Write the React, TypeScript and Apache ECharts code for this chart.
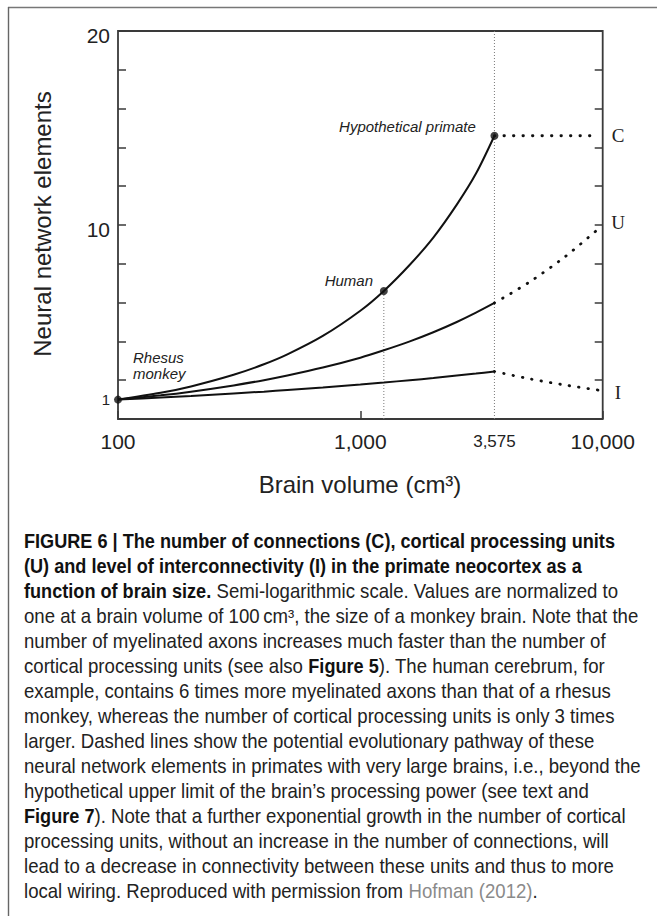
import React, { useEffect, useRef } from 'react';
import * as echarts from 'echarts';

// Brain volume (cm3) sampled along the solid curves
const volumeSolid = [100, 150, 200, 300, 400, 500, 700, 1000, 1250, 1600, 2000, 2500, 3000, 3575];
// Connections (C)
const connectionsC = [1, 1.35, 1.68, 2.28, 2.82, 3.33, 4.28, 5.58, 6.6, 7.95, 9.35, 11.05, 12.65, 14.6];
// Cortical processing units (U)
const unitsU = [1, 1.22, 1.41, 1.73, 2.0, 2.24, 2.65, 3.16, 3.54, 4.0, 4.47, 5.0, 5.48, 5.98];
// Interconnectivity (I)
const interI = [1, 1.11, 1.19, 1.32, 1.41, 1.5, 1.63, 1.78, 1.88, 2.0, 2.11, 2.24, 2.34, 2.45];

// Dashed (hypothetical) continuation
const volumeDashed = [3575, 5000, 7000, 9600];
const connectionsCDashed = [14.6, 14.6, 14.6, 14.6];
const unitsUDashed = [5.98, 7.07, 8.37, 9.8];
const interIDashed = [2.45, 2.07, 1.75, 1.49];

// Marked points: rhesus monkey, human, hypothetical primate
const pointVolumes = [100, 1250, 3575];
const pointValues = [1, 6.6, 14.6];

const yLabelValues = [1, 10, 20];

const captionLines = [
  '{b|FIGURE 6 | The number of connections (C), cortical processing units}',
  '{b|(U) and level of interconnectivity (I) in the primate neocortex as a}',
  '{b|function of brain size.}{r| Semi-logarithmic scale. Values are normalized to}',
  '{r|one at a brain volume of 100\u2009cm\u00b3, the size of a monkey brain. Note that the}',
  '{r|number of myelinated axons increases much faster than the number of}',
  '{r|cortical processing units (see also }{b|Figure 5}{r|). The human cerebrum, for}',
  '{r|example, contains 6 times more myelinated axons than that of a rhesus}',
  '{r|monkey, whereas the number of cortical processing units is only 3 times}',
  '{r|larger. Dashed lines show the potential evolutionary pathway of these}',
  '{r|neural network elements in primates with very large brains, i.e., beyond the}',
  '{r|hypothetical upper limit of the brain\u2019s processing power (see text and}',
  '{b|Figure 7}{r|). Note that a further exponential growth in the number of cortical}',
  '{r|processing units, without an increase in the number of connections, will}',
  '{r|lead to a decrease in connectivity between these units and thus to more}',
  '{r|local wiring. Reproduced with permission from }{g|Hofman (2012)}{r|.}',
];

const FONT = '"Liberation Sans", Arial, Helvetica, sans-serif';
const SERIF = '"Liberation Serif", "Times New Roman", serif';

export default function App() {
  const ref = useRef<HTMLDivElement>(null);

  useEffect(() => {
    document.body.style.margin = '0';
    const chart = echarts.init(ref.current!, null, { renderer: 'svg' });
    const pair = (xs: number[], ys: number[]) => xs.map((x, i) => [x, ys[i]]);
    const axisColor = '#3a3a3a';
    const solidStyle = { color: '#111', width: 2 };
    const dotStyle = { color: '#111', width: 2.8, type: [0.5, 9], cap: 'round' };
    const guideStyle = { color: '#7a7a7a', width: 1, type: [1, 2] };

    chart.setOption({
      animation: false,
      backgroundColor: '#fff',
      grid: {
        left: 118, top: 31, width: 484.7, height: 388,
        show: true, borderColor: axisColor, borderWidth: 1.8, backgroundColor: 'transparent',
      },
      xAxis: {
        type: 'log', logBase: 10, min: 100, max: 10000,
        axisLine: { show: false },
        axisTick: { show: true, inside: true, length: 8, lineStyle: { color: axisColor, width: 1.5 } },
        axisLabel: {
          margin: 12, fontSize: 21, fontFamily: FONT, color: '#222',
          formatter: (v: number) => Math.round(Number(v)).toLocaleString('en-US'),
        },
        splitLine: { show: false },
      },
      yAxis: [
        {
          type: 'value', min: 0, max: 20, interval: 2,
          axisLine: { show: false },
          axisTick: { show: true, inside: true, length: 8, lineStyle: { color: axisColor, width: 1.5 } },
          axisLabel: {
            customValues: yLabelValues, margin: 8, color: '#222',
            formatter: (v: number) => (v === 1 ? '{s|1}' : '{b|' + v + '}'),
            rich: {
              s: { fontSize: 15, fontFamily: FONT, color: '#222' },
              b: { fontSize: 21, fontFamily: FONT, color: '#222', padding: [8, 0, 0, 0] },
            },
          },
          splitLine: { show: false },
        },
        {
          type: 'value', min: 0, max: 20, interval: 2, position: 'right',
          axisLine: { show: false },
          axisTick: { show: true, inside: true, length: 8, lineStyle: { color: axisColor, width: 1.5 } },
          axisLabel: { show: false },
          splitLine: { show: false },
        },
      ],
      series: [
        { type: 'line', data: [[3575, 0], [3575, 20]], symbol: 'none', lineStyle: guideStyle, z: 1 },
        { type: 'line', data: [[pointVolumes[1], 0], [pointVolumes[1], pointValues[1]]], symbol: 'none', lineStyle: guideStyle, z: 1 },
        { type: 'line', name: 'C', data: pair(volumeSolid, connectionsC), smooth: 0.3, symbol: 'none', lineStyle: solidStyle, z: 3 },
        { type: 'line', name: 'U', data: pair(volumeSolid, unitsU), smooth: 0.3, symbol: 'none', lineStyle: solidStyle, z: 3 },
        { type: 'line', name: 'I', data: pair(volumeSolid, interI), smooth: 0.3, symbol: 'none', lineStyle: solidStyle, z: 3 },
        { type: 'line', data: pair(volumeDashed, connectionsCDashed), symbol: 'none', lineStyle: dotStyle, z: 3 },
        { type: 'line', data: pair(volumeDashed, unitsUDashed), smooth: 0.3, symbol: 'none', lineStyle: dotStyle, z: 3 },
        { type: 'line', data: pair(volumeDashed, interIDashed), smooth: 0.3, symbol: 'none', lineStyle: dotStyle, z: 3 },
        { type: 'scatter', data: pair(pointVolumes, pointValues), symbolSize: 8, itemStyle: { color: '#111' }, z: 5 },
      ],
    });

    const px = (x: number, y: number) => chart.convertToPixel({ xAxisIndex: 0, yAxisIndex: 0 }, [x, y]) as number[];
    const pMonkey = px(pointVolumes[0], pointValues[0]);
    const pHuman = px(pointVolumes[1], pointValues[1]);
    const pHypo = px(pointVolumes[2], pointValues[2]);
    const pTick = px(3575, 0);
    const n = volumeDashed.length - 1;
    const pC = px(volumeDashed[n], connectionsCDashed[n]);
    const pU = px(volumeDashed[n], unitsUDashed[n]);
    const pI = px(volumeDashed[n], interIDashed[n]);

    const txt = (x: number, y: number, text: string, extra: any = {}) => ({
      type: 'text', x, y, silent: true,
      style: { text, fontFamily: FONT, fontSize: 15, fill: '#222', textAlign: 'center', textVerticalAlign: 'middle', ...extra },
    });

    const richCap = {
      r: { fontFamily: FONT, fontSize: 20, fill: '#222', color: '#222' },
      b: { fontFamily: FONT, fontSize: 19.5, fontWeight: 'bold', fill: '#111', color: '#111' },
      g: { fontFamily: FONT, fontSize: 20, fill: '#8a8a8a', color: '#8a8a8a' },
    };

    const graphics: any[] = [
      { type: 'line', silent: true, shape: { x1: 8, y1: 7.5, x2: 657, y2: 7.5 }, style: { stroke: '#777', lineWidth: 1.6 } },
      { type: 'line', silent: true, shape: { x1: 8.5, y1: 7, x2: 8.5, y2: 916 }, style: { stroke: '#666', lineWidth: 1.4 } },
      { type: 'text', x: 42, y: 224, rotation: Math.PI / 2, silent: true,
        style: { text: 'Neural network elements', fontFamily: FONT, fontSize: 24, fill: '#222', textAlign: 'center', textVerticalAlign: 'middle' } },
      txt(360, 484, 'Brain volume (cm\u00b3)', { fontSize: 24 }),
      txt(pTick[0], 441.5, '3,575', { fontSize: 17 }),
      txt(pHuman[0] - 35, pHuman[1] - 10, 'Human', { fontStyle: 'italic' }),
      txt(pHypo[0] - 87, pHypo[1] - 9, 'Hypothetical primate', { fontStyle: 'italic' }),
      txt(pMonkey[0] + 15, pMonkey[1] - 42.5, 'Rhesus', { fontStyle: 'italic', textAlign: 'left' }),
      txt(pMonkey[0] + 15, pMonkey[1] - 26.5, 'monkey', { fontStyle: 'italic', textAlign: 'left' }),
      txt(618, pC[1], 'C', { fontFamily: SERIF, fontSize: 19 }),
      txt(618, pU[1] - 6, 'U', { fontFamily: SERIF, fontSize: 19 }),
      txt(618, pI[1] + 2, 'I', { fontFamily: SERIF, fontSize: 19 }),
    ];

    captionLines.forEach((line, i) => {
      graphics.push({
        type: 'text', x: 24, y: 541 + i * 25.05, scaleX: 0.93, silent: true,
        style: { text: line, fontFamily: FONT, fontSize: 20, fill: '#222', textAlign: 'left', textVerticalAlign: 'middle', rich: richCap },
      });
    });

    chart.setOption({ graphic: graphics });

    return () => chart.dispose();
  }, []);

  return <div ref={ref} style={{ width: 657, height: 916 }} />;
}
